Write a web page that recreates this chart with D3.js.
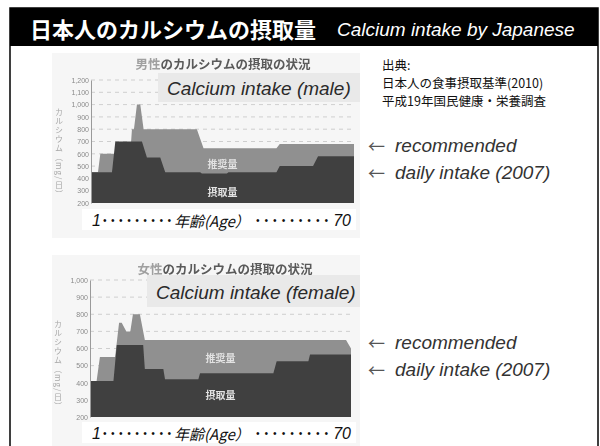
<!DOCTYPE html>
<html>
<head>
<meta charset="utf-8">
<script src="https://cdn.jsdelivr.net/npm/d3@7"></script>
<style>
  html, body { margin: 0; padding: 0; background: #fff; }
  svg { display: block; }
</style>
</head>
<body>
<svg id="slide" width="600" height="446"></svg>
<script>
// ---- data: age (years) and calcium (mg/day) breakpoints of each stepped area ----
const maleRecAge   = [1, 3.1, 3.8, 12.8, 13.3, 13.9, 14.8, 15.8, 16.8, 32.8, 34.8, 56.7, 57.7, 80];
const maleRec      = [450, 450, 600, 600, 800, 800, 1000, 1000, 800, 800, 645, 645, 680, 680];
const maleIntakeAge = [1, 7.3, 8.3, 16.3, 17.8, 21.8, 23.3, 33.8, 34.3, 41.8, 42.3, 56.7, 57.7, 67.7, 69.2, 80];
const maleIntake    = [450, 450, 700, 700, 570, 570, 450, 450, 440, 440, 450, 450, 500, 500, 580, 580];

const femaleRecAge = [1, 3.0, 4.0, 8.6, 9.8, 10.6, 12.0, 13.2, 14.0, 16.1, 17.6, 78.5, 80];
const femaleRec    = [410, 410, 550, 550, 750, 750, 700, 700, 800, 800, 650, 650, 600];
const femaleIntakeAge = [1, 8.1, 9.1, 17.1, 17.6, 23.2, 23.7, 33.8, 34.3, 56.5, 57.5, 67.1, 67.6, 80];
const femaleIntake    = [410, 410, 620, 620, 480, 480, 420, 420, 455, 455, 525, 525, 565, 565];

const maleTicks   = [200, 300, 400, 500, 600, 700, 800, 900, 1000, 1100, 1200];
const femaleTicks = [200, 300, 400, 500, 600, 700, 800, 900, 1000];

const titleJa = "日本人のカルシウムの摂取量";
const titleEn = "Calcium intake by Japanese";
const sourceLines = ["出典:", "日本人の食事摂取基準(2010)", "平成19年国民健康・栄養調査"];
const legendLines = ["recommended", "daily intake (2007)"];
const areaLabels = ["推奨量", "摂取量"];

const JA = "'Noto Sans CJK JP', 'Noto Sans', sans-serif";
const EN = "'Liberation Sans', Arial, sans-serif";

const svg = d3.select("#slide");

// soft focus used for the printed chart panels
const defs = svg.append("defs");
defs.append("filter").attr("id", "soft")
  .attr("x", "-5%").attr("y", "-5%").attr("width", "110%").attr("height", "110%")
  .append("feGaussianBlur").attr("stdDeviation", 0.55);

// slide frame and title bar
svg.append("rect").attr("x", 10).attr("y", 8).attr("width", 588).attr("height", 460)
  .attr("fill", "#fff").attr("stroke", "#000").attr("stroke-width", 1.5);
svg.append("rect").attr("x", 10).attr("y", 8).attr("width", 588).attr("height", 38).attr("fill", "#000");
svg.append("text").attr("x", 30).attr("y", 28).attr("dominant-baseline", "central")
  .attr("font-family", JA).attr("font-weight", 700).attr("font-size", 22).attr("fill", "#fff")
  .text(titleJa);
svg.append("text").attr("x", 337).attr("y", 29).attr("dominant-baseline", "central")
  .attr("font-family", EN).attr("font-style", "italic").attr("font-size", 19).attr("fill", "#fff")
  .text(titleEn);

// one chart panel
function panel(o) {
  const g = svg.append("g");
  g.append("rect").attr("x", o.bg[0]).attr("y", o.bg[1]).attr("width", o.bg[2]).attr("height", o.bg[3])
    .attr("fill", "#f6f6f6");

  const c = g.append("g").attr("filter", "url(#soft)");
  const x = d3.scaleLinear().domain([1, 80]).range([o.left, o.right]);
  const y = d3.scaleLinear().domain([200, d3.max(o.ticks)]).range([o.bottom, o.top]);

  // dashed grid
  c.append("g").selectAll("line").data(o.ticks.slice(1)).join("line")
    .attr("x1", o.left).attr("x2", o.right)
    .attr("y1", d => y(d)).attr("y2", d => y(d))
    .attr("stroke", "#c4c4c4").attr("stroke-width", 0.8).attr("stroke-dasharray", "4,4");

  const area = d3.area().x(d => x(d[0])).y0(y(200)).y1(d => y(d[1]));
  c.append("path").attr("d", area(d3.zip(o.recAge, o.rec))).attr("fill", "#909090");
  c.append("path").attr("d", area(d3.zip(o.intakeAge, o.intake))).attr("fill", "#404040");

  // y axis
  const ax = c.append("g").attr("transform", `translate(${o.left},0)`)
    .call(d3.axisLeft(y).tickValues(o.ticks).tickSize(0).tickPadding(2).tickFormat(d3.format(",")));
  ax.select(".domain").attr("stroke", "#9a9a9a").attr("stroke-width", 1);
  ax.selectAll("text").attr("font-family", EN).attr("font-size", 7).attr("fill", "#8a8a8a");

  // vertical axis title
  c.append("text").attr("x", o.left - 32).attr("y", o.axisTitleY)
    .attr("font-family", JA).attr("font-size", 8).attr("fill", "#a8a8a8")
    .style("writing-mode", "vertical-rl").attr("letter-spacing", 1)
    .text("カルシウム（mg/日）");

  // chart heading
  const h = c.append("text").attr("x", o.headX).attr("y", o.headY).attr("text-anchor", "middle")
    .attr("dominant-baseline", "central").attr("font-family", JA).attr("font-weight", 700)
    .attr("font-size", 12.5).attr("fill", "#5a5a5a");
  h.append("tspan").attr("fill", "#a0a0a0").text(o.headA);
  h.append("tspan").text("のカルシウムの摂取の状況");

  // labels inside the areas
  c.selectAll("text.lab").data(areaLabels).join("text").attr("class", "lab")
    .attr("x", (o.left + o.right) / 2 + 0).attr("y", (d, i) => o.labY[i])
    .attr("text-anchor", "middle").attr("dominant-baseline", "central")
    .attr("font-family", JA).attr("font-weight", 700).attr("font-size", 10).attr("fill", "#e2e2e2")
    .text(d => d);

  // English caption band
  g.append("rect").attr("x", o.band[0]).attr("y", o.band[1]).attr("width", o.band[2]).attr("height", o.band[3])
    .attr("fill", "#e9e9e9");
  g.append("text").attr("x", o.band[0] + 9).attr("y", o.band[1] + o.band[3] / 2 + 1)
    .attr("dominant-baseline", "central").attr("font-family", EN).attr("font-style", "italic")
    .attr("font-size", 19).attr("fill", "#2a2a2a").text(o.caption);

  // age strip
  g.append("rect").attr("x", 82).attr("y", o.ageY - 11).attr("width", 274).attr("height", 21).attr("fill", "#fff");
  const at = (tx, anchor, txt, size, len) => {
    const t = g.append("text").attr("x", tx).attr("y", o.ageY).attr("text-anchor", anchor)
      .attr("dominant-baseline", "central").attr("font-family", EN).attr("font-style", "italic")
      .attr("font-size", size).attr("fill", "#111").text(txt);
    if (len) t.attr("textLength", len).attr("lengthAdjust", "spacing");
    return t;
  };
  at(92, "start", "1", 16);
  at(103, "start", "•••••••••", 10, 68);
  g.append("text").attr("x", 174).attr("y", o.ageY).attr("dominant-baseline", "central")
    .attr("font-family", JA).attr("font-style", "italic").attr("font-size", 15).attr("fill", "#111")
    .text("年齢(Age）");
  at(256, "start", "•••••••••", 10, 72);
  at(351, "end", "70", 16);
}

panel({
  bg: [52, 53, 308, 185], left: 91, right: 354, top: 80, bottom: 203, ticks: maleTicks,
  recAge: maleRecAge, rec: maleRec, intakeAge: maleIntakeAge, intake: maleIntake,
  headX: 223, headY: 63, headA: "男性", labY: [163, 191], axisTitleY: 108,
  band: [158, 73, 202, 29], caption: "Calcium intake (male)", ageY: 220
});
panel({
  bg: [52, 255, 308, 191], left: 90, right: 351, top: 280, bottom: 417, ticks: femaleTicks,
  recAge: femaleRecAge, rec: femaleRec, intakeAge: femaleIntakeAge, intake: femaleIntake,
  headX: 225, headY: 268, headA: "女性", labY: [357, 394], axisTitleY: 320,
  band: [147, 275, 213, 32], caption: "Calcium intake (female)", ageY: 433
});

// source note
svg.append("g").selectAll("text").data(sourceLines).join("text")
  .attr("x", 382).attr("y", (d, i) => [70, 88, 106][i])
  .attr("font-family", JA).attr("font-size", 12.5).attr("fill", "#111").text(d => d);

// legend notes beside each panel
[[145, 172], [342, 369]].forEach(ys => {
  legendLines.forEach((t, i) => {
    svg.append("text").attr("x", 368).attr("y", ys[i]).attr("dominant-baseline", "central")
      .attr("font-family", JA).attr("font-size", 17).attr("fill", "#555").text("←");
    svg.append("text").attr("x", 395).attr("y", ys[i]).attr("dominant-baseline", "central")
      .attr("font-family", EN).attr("font-style", "italic").attr("font-size", 19).attr("fill", "#333").text(t);
  });
});
</script>
</body>
</html>
